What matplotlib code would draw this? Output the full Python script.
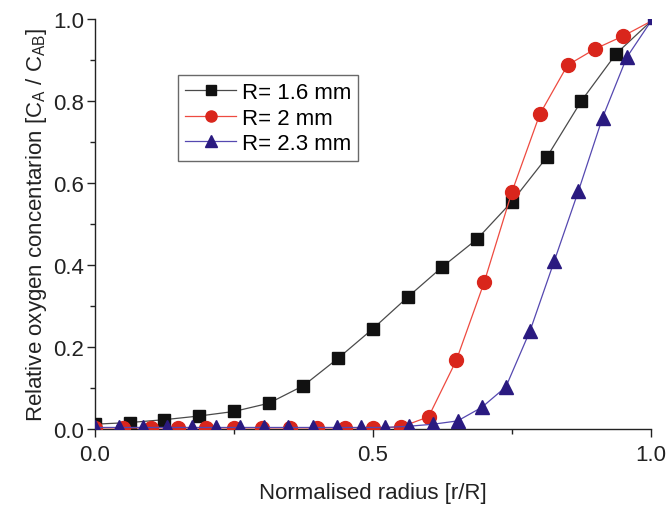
import matplotlib
matplotlib.use("Agg")
import matplotlib.pyplot as plt
import numpy as np

plt.rcParams['font.family'] = ['Liberation Sans', 'DejaVu Sans']

# R = 1.6 mm (x = i/16)
x_16 = [0.0, 0.0625, 0.125, 0.1875, 0.25, 0.3125, 0.375, 0.4375, 0.5, 0.5625,
        0.625, 0.6875, 0.75, 0.8125, 0.875, 0.9375, 1.0]
y_16 = [0.012, 0.016, 0.023, 0.032, 0.043, 0.063, 0.106, 0.173, 0.245, 0.322,
        0.396, 0.464, 0.555, 0.663, 0.801, 0.916, 0.995]

# R = 2 mm (x = i/20)
x_20 = [0.0, 0.05, 0.10, 0.15, 0.20, 0.25, 0.30, 0.35, 0.40, 0.45, 0.50,
        0.55, 0.60, 0.65, 0.70, 0.75, 0.80, 0.85, 0.90, 0.95, 1.0]
y_20 = [0.003, 0.003, 0.003, 0.003, 0.003, 0.003, 0.003, 0.003, 0.003, 0.003, 0.003,
        0.005, 0.030, 0.168, 0.358, 0.579, 0.768, 0.888, 0.928, 0.959, 0.995]

# R = 2.3 mm (x = i/23)
x_23 = [0.0, 0.0435, 0.0870, 0.1304, 0.1739, 0.2174, 0.2609, 0.3043, 0.3478,
        0.3913, 0.4348, 0.4783, 0.5217, 0.5652, 0.6087, 0.6522, 0.6957, 0.7391,
        0.7826, 0.8261, 0.8696, 0.9130, 0.9565, 1.0]
y_23 = [0.004, 0.004, 0.004, 0.004, 0.004, 0.004, 0.004, 0.004, 0.004,
        0.004, 0.004, 0.004, 0.004, 0.007, 0.012, 0.020, 0.053, 0.103,
        0.240, 0.410, 0.581, 0.760, 0.907, 0.995]

labels = ['R= 1.6 mm', 'R= 2 mm', 'R= 2.3 mm']

fig = plt.figure(figsize=(6.69, 5.06), dpi=100)
ax = fig.add_axes([0.142, 0.150, 0.831, 0.810])

n16 = len(x_16)
n20 = len(x_20)
n23 = len(x_23)
ax.plot(x_16, y_16, color='#4a4a4a', lw=0.9, marker='s', ms=9,
        mfc='#111111', mec='#111111', markevery=list(range(n16 - 1)),
        label=labels[0], zorder=3)
ax.plot(x_20, y_20, color='#ee4a40', lw=0.9, marker='o', ms=10,
        mfc='#d9261c', mec='#d9261c', markevery=list(range(n20 - 1)),
        label=labels[1], zorder=4)
ax.plot(x_23, y_23, color='#5548b0', lw=0.9, marker='^', ms=10,
        mfc='#2a1a80', mec='#2a1a80', markevery=list(range(n23 - 1)),
        label=labels[2], zorder=5)
ax.plot([x_23[-1]], [y_23[-1]], marker='s', ms=4, color='#2a1a80',
        ls='none', zorder=6)

ax.set_xlim(0.0, 1.0)
ax.set_ylim(0.0, 1.0)
ax.set_xticks([0.0, 0.5, 1.0])
ax.set_xticklabels(['0.0', '0.5', '1.0'])
ax.set_xticks([0.25, 0.75], minor=True)
ax.set_yticks([0.0, 0.2, 0.4, 0.6, 0.8, 1.0])
ax.set_yticklabels(['0.0', '0.2', '0.4', '0.6', '0.8', '1.0'])
ax.set_yticks([0.1, 0.3, 0.5, 0.7, 0.9], minor=True)

ax.spines['top'].set_visible(False)
ax.spines['right'].set_visible(False)
for s in ['left', 'bottom']:
    ax.spines[s].set_linewidth(1.0)
    ax.spines[s].set_color('#222222')

ax.tick_params(axis='both', which='major', direction='out', length=6,
               width=1.0, labelsize=16, colors='#222222', pad=2)
ax.tick_params(axis='both', which='minor', direction='out', length=3.5,
               width=1.0, colors='#222222')
ax.tick_params(axis='x', which='major', pad=5)

ax.set_xlabel('Normalised radius [r/R]', fontsize=16, color='#222222', labelpad=12)
ax.set_ylabel(r'Relative oxygen concentarion [C$_\mathregular{A}$ / C$_\mathregular{AB}$]',
              fontsize=16, color='#222222', labelpad=3)

leg = ax.legend(loc='upper left', bbox_to_anchor=(0.150, 0.863), fontsize=16,
                frameon=True, fancybox=False, edgecolor='#444444',
                handlelength=2.3, handletextpad=0.25, borderpad=0.3,
                labelspacing=0.2, markerscale=0.8, borderaxespad=0.0)
leg.get_frame().set_linewidth(1.0)

fig.savefig('out.png', dpi=100)
